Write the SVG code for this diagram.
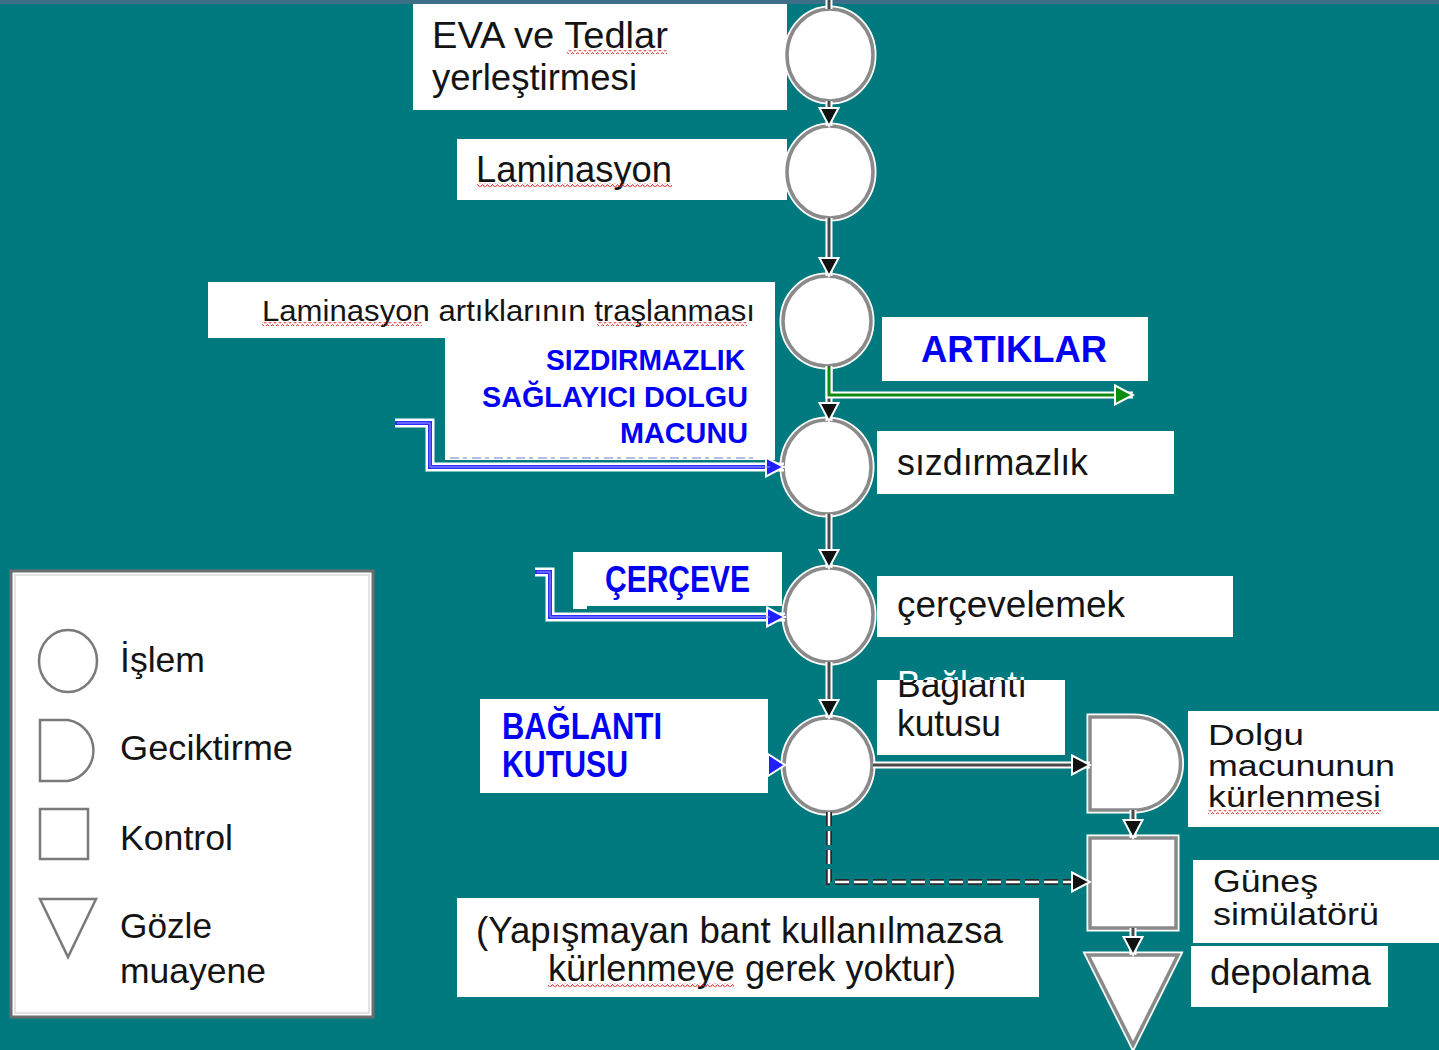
<svg xmlns="http://www.w3.org/2000/svg" width="1439" height="1050" viewBox="0 0 1439 1050">
  <style>
    .t { font-family: "Liberation Sans", Arial, sans-serif; font-size: 36px; fill: #141414; }
    .s { font-size: 30px; }
    .lg { font-size: 35px; }
    .tight { font-size: 32px; }
    .tighter { font-size: 29px; }
    .b { font-weight: bold; fill: #0000f5; }
    .box { fill: #ffffff; }
    .halo { fill: none; stroke: #ffffff; stroke-width: 7; stroke-linejoin: miter; }
    .ln { fill: none; stroke: #4a4a4a; stroke-width: 3; }
    .blueln { fill: none; stroke: #2d2dff; stroke-width: 4; }
    .bluecore { fill: none; stroke: #9a9aff; stroke-width: 1; }
    .greenln { fill: none; stroke: #108a10; stroke-width: 3; }
    .ringhalo { fill: #ffffff; stroke: #ffffff; stroke-width: 7; }
    .ring { fill: #ffffff; stroke: #8a8a8a; stroke-width: 3.5; }
    .leg { fill: none; stroke: #7a7a7a; stroke-width: 2.5; }
    .squig { fill: url(#squig); }
  </style>
  <defs>
    <marker id="ah" viewBox="0 0 22 22" refX="20" refY="11" markerWidth="22" markerHeight="22" markerUnits="userSpaceOnUse" orient="auto">
      <path d="M2,1.5 L20,11 L2,20.5 z" fill="#111" stroke="#fff" stroke-width="2"/>
    </marker>
    <marker id="ahBlue" viewBox="0 0 22 22" refX="20" refY="11" markerWidth="22" markerHeight="22" markerUnits="userSpaceOnUse" orient="auto">
      <path d="M2,1.5 L20,11 L2,20.5 z" fill="#2020ff" stroke="#fff" stroke-width="2"/>
    </marker>
    <marker id="ahGreen" viewBox="0 0 22 22" refX="20" refY="11" markerWidth="22" markerHeight="22" markerUnits="userSpaceOnUse" orient="auto">
      <path d="M2,1.5 L20,11 L2,20.5 z" fill="#108a10" stroke="#fff" stroke-width="2"/>
    </marker>
    <pattern id="squig" width="5" height="4" patternUnits="userSpaceOnUse">
      <path d="M0,3.5 L2.5,0.5 L5,3.5" fill="none" stroke="#e02020" stroke-width="1"/>
    </pattern>
    <clipPath id="clipIn"><rect x="877" y="680" width="188" height="75"/></clipPath>
    <clipPath id="clipOut"><rect x="877" y="640" width="188" height="40"/></clipPath>
  </defs>

  <!-- background -->
  <rect width="1439" height="1050" fill="#007a7e"/>
  <rect width="1439" height="4" fill="#3d7088"/>

  <!-- label boxes -->
  <g id="label-eva">
    <rect class="box" x="413" y="4" width="374" height="106"/>
    <text class="t" x="432" y="48" textLength="236" lengthAdjust="spacingAndGlyphs">EVA ve Tedlar</text>
    <text class="t" x="432" y="90" textLength="205" lengthAdjust="spacingAndGlyphs">yerleştirmesi</text>
    <rect class="squig" x="567" y="50" width="100" height="4"/>
  </g>
  <g id="label-laminasyon">
    <rect class="box" x="457" y="139" width="330" height="61"/>
    <text class="t" x="476" y="182" textLength="196" lengthAdjust="spacingAndGlyphs">Laminasyon</text>
    <rect class="squig" x="477" y="183" width="195" height="4"/>
  </g>
  <g id="label-trim">
    <rect class="box" x="208" y="282" width="567" height="56"/>
    <text class="t s" x="262" y="321" textLength="493" lengthAdjust="spacingAndGlyphs">Laminasyon artıklarının traşlanması</text>
    <rect class="squig" x="262" y="322" width="160" height="4"/>
    <rect class="squig" x="597" y="322" width="150" height="4"/>
  </g>
  <g id="label-sealant">
    <rect class="box" x="445" y="338" width="330" height="122"/>
    <text class="t b s" x="546" y="370" textLength="199" lengthAdjust="spacingAndGlyphs">SIZDIRMAZLIK</text>
    <text class="t b s" x="482" y="407" textLength="266" lengthAdjust="spacingAndGlyphs">SAĞLAYICI DOLGU</text>
    <text class="t b s" x="620" y="443" textLength="128" lengthAdjust="spacingAndGlyphs">MACUNU</text>
    <path d="M450,458 H755" fill="none" stroke="#b4bde6" stroke-width="2" stroke-dasharray="9 4 4 5"/>
  </g>
  <g id="label-waste">
    <rect class="box" x="882" y="317" width="266" height="64"/>
    <text class="t b" x="921" y="362" font-size="37" textLength="186" lengthAdjust="spacingAndGlyphs">ARTIKLAR</text>
  </g>
  <g id="label-sealing">
    <rect class="box" x="877" y="431" width="297" height="63"/>
    <text class="t" x="897" y="475" textLength="191" lengthAdjust="spacingAndGlyphs">sızdırmazlık</text>
  </g>
  <g id="label-frame-in">
    <rect class="box" x="573" y="552" width="209" height="54"/>
    <rect class="box" x="573" y="600" width="14" height="9"/>
    <text class="t b" x="605" y="592" font-size="32" textLength="145" lengthAdjust="spacingAndGlyphs">ÇERÇEVE</text>
  </g>
  <g id="label-framing">
    <rect class="box" x="877" y="576" width="356" height="61"/>
    <text class="t" x="897" y="617" textLength="228" lengthAdjust="spacingAndGlyphs">çerçevelemek</text>
  </g>
  <g id="label-jbox-in">
    <rect class="box" x="480" y="699" width="288" height="94"/>
    <text class="t b" x="502" y="739" font-size="32" textLength="160" lengthAdjust="spacingAndGlyphs">BAĞLANTI</text>
    <text class="t b" x="502" y="777" font-size="32" textLength="126" lengthAdjust="spacingAndGlyphs">KUTUSU</text>
  </g>
  <g id="label-jbox">
    <rect class="box" x="877" y="680" width="188" height="75"/>
    <text class="t" x="897" y="697" textLength="130" lengthAdjust="spacingAndGlyphs" clip-path="url(#clipIn)">Bağlantı</text>
    <text class="t" x="897" y="697" textLength="130" lengthAdjust="spacingAndGlyphs" clip-path="url(#clipOut)" style="fill:#ffffff">Bağlantı</text>
    <text class="t" x="897" y="736" textLength="104" lengthAdjust="spacingAndGlyphs">kutusu</text>
  </g>
  <g id="label-curing">
    <rect class="box" x="1188" y="711" width="251" height="116"/>
    <text class="t tighter" x="1208" y="745" textLength="96" lengthAdjust="spacingAndGlyphs">Dolgu</text>
    <text class="t tighter" x="1208" y="776" textLength="187" lengthAdjust="spacingAndGlyphs">macununun</text>
    <text class="t tighter" x="1208" y="807" textLength="173" lengthAdjust="spacingAndGlyphs">kürlenmesi</text>
    <rect class="squig" x="1208" y="810" width="173" height="4"/>
  </g>
  <g id="label-simulator">
    <rect class="box" x="1193" y="860" width="246" height="83"/>
    <text class="t tight" x="1213" y="892" textLength="105" lengthAdjust="spacingAndGlyphs">Güneş</text>
    <text class="t tight" x="1213" y="925" textLength="166" lengthAdjust="spacingAndGlyphs">simülatörü</text>
  </g>
  <g id="label-storage">
    <rect class="box" x="1191" y="946" width="197" height="61"/>
    <text class="t" x="1210" y="985" textLength="161" lengthAdjust="spacingAndGlyphs">depolama</text>
  </g>
  <g id="label-note">
    <rect class="box" x="457" y="898" width="582" height="99"/>
    <text class="t" x="476" y="943" textLength="527" lengthAdjust="spacingAndGlyphs">(Yapışmayan bant kullanılmazsa</text>
    <text class="t" x="548" y="981" textLength="408" lengthAdjust="spacingAndGlyphs">kürlenmeye gerek yoktur)</text>
    <rect class="squig" x="548" y="983" width="186" height="4"/>
  </g>

  <!-- process nodes -->
  <g id="op-eva"><ellipse class="ringhalo" cx="830" cy="55" rx="43" ry="46"/><ellipse class="ring" cx="830" cy="55" rx="43" ry="46"/></g>
  <g id="op-laminate"><ellipse class="ringhalo" cx="830" cy="172" rx="43" ry="46"/><ellipse class="ring" cx="830" cy="172" rx="43" ry="46"/></g>
  <g id="op-trim"><ellipse class="ringhalo" cx="827" cy="321" rx="44" ry="45"/><ellipse class="ring" cx="827" cy="321" rx="44" ry="45"/></g>
  <g id="op-seal"><ellipse class="ringhalo" cx="827" cy="467" rx="44" ry="47"/><ellipse class="ring" cx="827" cy="467" rx="44" ry="47"/></g>
  <g id="op-frame"><ellipse class="ringhalo" cx="829" cy="615" rx="44" ry="47"/><ellipse class="ring" cx="829" cy="615" rx="44" ry="47"/></g>
  <g id="op-jbox"><ellipse class="ringhalo" cx="828" cy="765" rx="44" ry="47"/><ellipse class="ring" cx="828" cy="765" rx="44" ry="47"/></g>
  <g id="delay-curing">
    <path class="ringhalo" d="M1090,717 H1134 A46.5,46.5 0 0 1 1134,810 H1090 Z"/>
    <path class="ring" d="M1090,717 H1134 A46.5,46.5 0 0 1 1134,810 H1090 Z"/>
  </g>
  <g id="check-simulator">
    <rect class="ringhalo" x="1090" y="838" width="86" height="90"/>
    <rect class="ring" x="1090" y="838" width="86" height="90"/>
  </g>
  <g id="inspect-storage">
    <path class="ringhalo" d="M1088,955 H1178 L1133,1045 Z"/>
    <path class="ring" d="M1088,955 H1178 L1133,1045 Z"/>
  </g>

  <!-- connectors -->
  <g id="connectors">
    <path class="halo" d="M829,0 V9"/>
    <path class="ln" d="M829,0 V9"/>

    <path class="halo" d="M829,101 V126"/>
    <path class="ln" d="M829,101 V126" marker-end="url(#ah)"/>
    <path class="halo" d="M829,218 V276"/>
    <path class="ln" d="M829,218 V276" marker-end="url(#ah)"/>
    <path class="halo" d="M829,366 V421"/>
    <path class="ln" d="M829,366 V421" marker-end="url(#ah)"/>
    <path class="halo" d="M829,514 V568"/>
    <path class="ln" d="M829,514 V568" marker-end="url(#ah)"/>
    <path class="halo" d="M829,662 V718"/>
    <path class="ln" d="M829,662 V718" marker-end="url(#ah)"/>

    <!-- scrap branch -->
    <path class="halo" d="M829,367 V395 H1133"/>
    <path class="greenln" d="M829,367 V395 H1133" marker-end="url(#ahGreen)"/>

    <!-- sealant feed -->
    <path d="M395,423 H430 V467 H784" fill="none" stroke="#fff" stroke-width="9"/>
    <path class="blueln" d="M395,423 H430 V467 H784" marker-end="url(#ahBlue)"/>
    <path class="bluecore" d="M397,423 H430 V467 H770"/>

    <!-- frame feed -->
    <path d="M535,572 H550 V617 H785" fill="none" stroke="#fff" stroke-width="9"/>
    <path class="blueln" d="M535,572 H550 V617 H785" marker-end="url(#ahBlue)"/>
    <path class="bluecore" d="M537,572 H550 V617 H770"/>

    <!-- junction box feed -->
    <path d="M768,754 L785,765 L768,776 Z" fill="#2020ff" stroke="#fff" stroke-width="2"/>

    <!-- to curing delay -->
    <path class="halo" d="M873,765 H1090"/>
    <path class="ln" d="M873,765 H1090" marker-end="url(#ah)"/>

    <!-- bypass when no tape is used -->
    <path d="M829,812 V882 H1078" fill="none" stroke="#2a2a2a" stroke-width="6" stroke-dasharray="14 5"/>
    <path d="M829,812 V882 H1078" fill="none" stroke="#fff" stroke-width="2.5" stroke-dasharray="14 5"/>
    <path d="M1076,882 H1090" fill="none" stroke="none" marker-end="url(#ah)"/>

    <path class="halo" d="M1133,810 V838"/>
    <path class="ln" d="M1133,810 V838" marker-end="url(#ah)"/>
    <path class="halo" d="M1133,928 V955"/>
    <path class="ln" d="M1133,928 V955" marker-end="url(#ah)"/>
  </g>

  <!-- legend -->
  <g id="legend">
    <rect x="11" y="571" width="362" height="446" fill="#fff" stroke="#6e6e6e" stroke-width="3"/>
    <rect x="15" y="575" width="354" height="438" fill="none" stroke="#c8c8c8" stroke-width="1"/>
    <ellipse class="leg" cx="68" cy="661" rx="29" ry="31"/>
    <path class="leg" d="M40,720 H68 A31,31 0 0 1 68,781 H40 Z"/>
    <rect class="leg" x="40" y="809" width="48" height="50"/>
    <path class="leg" d="M40,899 H96 L68,957 Z"/>
    <text class="t lg" x="120" y="672" textLength="85" lengthAdjust="spacingAndGlyphs">İşlem</text>
    <text class="t lg" x="120" y="760" textLength="173" lengthAdjust="spacingAndGlyphs">Geciktirme</text>
    <text class="t lg" x="120" y="850" textLength="113" lengthAdjust="spacingAndGlyphs">Kontrol</text>
    <text class="t lg" x="120" y="938" textLength="92" lengthAdjust="spacingAndGlyphs">Gözle</text>
    <text class="t lg" x="120" y="983" textLength="146" lengthAdjust="spacingAndGlyphs">muayene</text>
  </g>
</svg>
